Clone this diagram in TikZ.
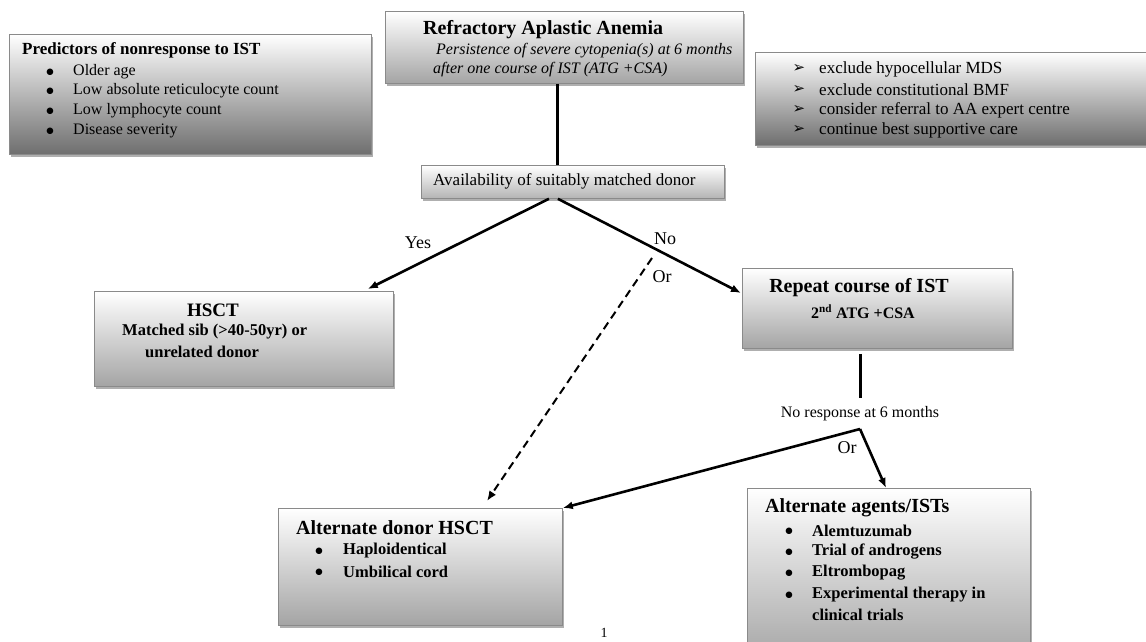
\documentclass[tikz,border=0pt]{standalone}
\usepackage{fontspec}
\setmainfont{Liberation Serif}
\newfontfamily\symfont{DejaVu Sans}
\usetikzlibrary{shadows,arrows.meta}
\definecolor{dkbot}{HTML}{6E6E6E}
\definecolor{mdbot}{HTML}{A4A4A4}
\definecolor{ltbot}{HTML}{B4B4B4}
\definecolor{bordc}{HTML}{8A8A8A}
\tikzset{
  box/.style={draw=bordc, line width=0.8pt, anchor=north west, inner sep=0pt,
    top color=white, bottom color=#1,
    drop shadow={shadow xshift=2pt, shadow yshift=-2.5pt, fill=gray!70, opacity=0.9}},
  box/.default=mdbot,
  txt/.style={anchor=west, inner sep=0pt, font=\fontsize{16}{19}\selectfont},
  txtc/.style={anchor=center, inner sep=0pt, font=\fontsize{16}{19}\selectfont},
  btxt/.style={anchor=west, inner sep=0pt, font=\fontsize{16.5}{19}\selectfont\bfseries},
  ttl/.style={anchor=west, inner sep=0pt, font=\fontsize{20}{24}\selectfont\bfseries},
  lbl/.style={anchor=center, inner sep=0pt, font=\fontsize{18}{21}\selectfont},
  bul/.style={anchor=center, inner sep=0pt, font=\fontsize{8.5}{10}\symfont},
  arrbul/.style={anchor=center, inner sep=0pt, font=\fontsize{15}{18}\symfont},
  conn/.style={line width=2.6pt, -{Latex[length=10pt,width=8pt]}},
  plain/.style={line width=3.4pt},
  dashconn/.style={line width=2pt, dash pattern=on 8pt off 5pt, -{Latex[length=10pt,width=8pt]}}
}
\begin{document}
\begin{tikzpicture}[x=1pt,y=-1pt]
\useasboundingbox (0,0) rectangle (1146,642);
\clip (0,0) rectangle (1146,642);

% ---------- boxes ----------
\node[box=dkbot, minimum width=362pt, minimum height=120pt] (pred) at (9,34) {};
\node[box=mdbot, minimum width=358pt, minimum height=72pt] (refr) at (385,11) {};
\node[box=dkbot, minimum width=400pt, minimum height=93pt] (excl) at (755,52) {};
\node[box=ltbot, minimum width=303pt, minimum height=33pt] (avail) at (421,165) {};
\node[box=mdbot, minimum width=299pt, minimum height=95pt] (hsct) at (94,291) {};
\node[box=mdbot, minimum width=270pt, minimum height=80pt] (rep) at (742,268) {};
\node[box=mdbot, minimum width=284pt, minimum height=117pt] (altd) at (278,508) {};
\node[box=mdbot, minimum width=283pt, minimum height=175pt] (agents) at (747,488) {};

% ---------- predictors ----------
\node[btxt, font=\fontsize{17}{20}\selectfont\bfseries] (predt) at (22,50) {Predictors of nonresponse to IST};
\node[bul] (pb1) at (50,72) {●};
\node[bul] (pb2) at (50,91) {●};
\node[bul] (pb3) at (50,111) {●};
\node[bul] (pb4) at (50,131) {●};
\node[txt] (p1) at (73,72) {Older age};
\node[txt] (p2) at (73,91) {Low absolute reticulocyte count};
\node[txt] (p3) at (73,111) {Low lymphocyte count};
\node[txt] (p4) at (73,131) {Disease severity};

% ---------- refractory ----------
\node[ttl] (refrt) at (423,30) {Refractory Aplastic Anemia};
\node[txt, font=\fontsize{16}{19}\selectfont\itshape] (r1) at (436,51) {Persistence of severe cytopenia(s) at 6 months};
\node[txt, font=\fontsize{16}{19}\selectfont\itshape] (r2) at (433,70) {after one course of IST (ATG +CSA)};

% ---------- exclusions ----------
\node[arrbul] (eb1) at (799,69) {➢};
\node[arrbul] (eb2) at (799,90) {➢};
\node[arrbul] (eb3) at (799,110) {➢};
\node[arrbul] (eb4) at (799,130) {➢};
\node[txt, font=\fontsize{17}{20}\selectfont] (e1) at (819,69) {exclude hypocellular MDS};
\node[txt, font=\fontsize{17}{20}\selectfont] (e2) at (819,90) {exclude constitutional BMF};
\node[txt, font=\fontsize{17}{20}\selectfont] (e3) at (819,110) {consider referral to AA expert centre};
\node[txt, font=\fontsize{17}{20}\selectfont] (e4) at (819,130) {continue best supportive care};

% ---------- availability ----------
\node[txt, font=\fontsize{17}{20}\selectfont] (availt) at (433,181) {Availability of suitably matched donor};

% ---------- HSCT ----------
\node[ttl, anchor=center, font=\fontsize{19}{23}\selectfont\bfseries] (hsctt) at (213,310) {HSCT};
\node[btxt] (h1) at (122,332) {Matched sib (>40-50yr) or};
\node[btxt] (h2) at (145,352) {unrelated donor};

% ---------- repeat ----------
\node[ttl, anchor=center] (rept) at (859,288) {Repeat course of IST};
\node[btxt, anchor=center, font=\fontsize{16}{19}\selectfont\bfseries] (rep2) at (863,312) {2\textsuperscript{nd} ATG +CSA};

% ---------- no response ----------
\node[txtc] (noresp) at (860,414) {No response at 6 months};

% ---------- alternate donor ----------
\node[ttl] (altdt) at (296,528) {Alternate donor HSCT};
\node[bul] (ab1) at (319,551) {●};
\node[bul] (ab2) at (319,572) {●};
\node[btxt] (a1) at (343,551) {Haploidentical};
\node[btxt] (a2) at (343,572) {Umbilical cord};

% ---------- alternate agents ----------
\node[ttl] (agt) at (765,508) {Alternate agents/ISTs};
\node[bul] (gb1) at (789,531) {●};
\node[bul] (gb2) at (789,552) {●};
\node[bul] (gb3) at (789,573) {●};
\node[bul] (gb4) at (789,595) {●};
\node[btxt] (g1) at (812,531) {Alemtuzumab};
\node[btxt] (g2) at (812,552) {Trial of androgens};
\node[btxt] (g3) at (812,573) {Eltrombopag};
\node[btxt] (g4) at (812,595) {Experimental therapy in};
\node[btxt] (g5) at (812,615) {clinical trials};

% ---------- labels ----------
\node[lbl] (yes) at (418,243) {Yes};
\node[lbl] (no) at (665,239) {No};
\node[lbl] (or1) at (662,277) {Or};
\node[lbl] (or2) at (847,448) {Or};
\node[txtc, font=\fontsize{14}{16}\selectfont] (pg) at (604,633) {1};

% ---------- connectors ----------
\coordinate (dstart) at (652,258);
\coordinate (split) at (860,429);
\draw[plain] ([xshift=-7pt]refr.south) -- ([xshift=-7pt]refr.south |- avail.north);
\draw[conn] ([xshift=-24pt]avail.south) -- ([xshift=-26pt,yshift=2pt]hsct.north east);
\draw[conn] ([xshift=-15pt]avail.south) -- ([xshift=-1pt,yshift=-25pt]rep.north west);
\draw[dashconn] (dstart) -- ([xshift=209pt,yshift=7pt]altd.north west);
\draw[plain] ([xshift=-17pt,yshift=-5pt]rep.south) -- ([xshift=-17pt,yshift=-49pt]rep.south);
\draw[conn] (split) -- (altd.north east);
\draw[conn] (split) -- ([xshift=139pt]agents.north west);
\end{tikzpicture}
\end{document}
